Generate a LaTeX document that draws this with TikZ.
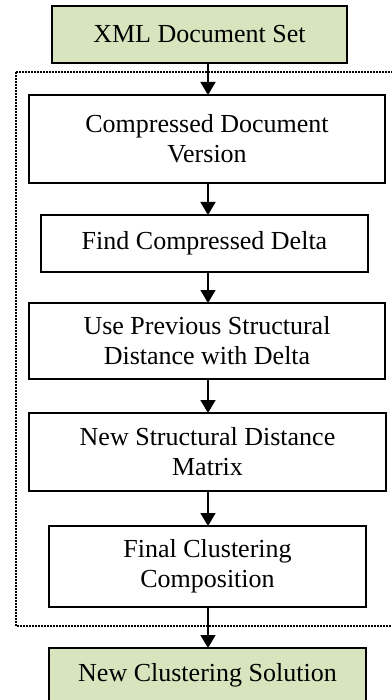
\documentclass[tikz,border=0pt]{standalone}
\usepackage{fontspec}
\setmainfont{Liberation Serif}
\usetikzlibrary{arrows.meta}

\definecolor{stagegreen}{HTML}{D7E4BD}

\tikzset{
  stagebox/.style={draw=black, line width=2pt, fill=white, align=center,
    inner sep=0pt, outer sep=0pt,
    font=\fontsize{26}{30}\selectfont},
  iobox/.style={stagebox, fill=stagegreen},
  flow/.style={line width=1.6pt, -{Triangle[width=15pt,length=13pt]}},
  groupframe/.style={line width=1.3pt, dash pattern=on 2pt off 1pt}
}

\begin{document}
\begin{tikzpicture}[x=1pt, y=-1pt]
  \useasboundingbox (0,0) rectangle (391,700);

  % dotted frame around the processing stages
  \draw[groupframe] (16,72) rectangle (393,626);

  % boxes
  \node[iobox, minimum width=295pt, minimum height=57pt] (src) at (199.5,34.5) {XML Document Set};
  \node[stagebox, minimum width=356pt, minimum height=88pt] (cdv) at (207,139) {Compressed Document\\Version};
  \node[stagebox, minimum width=327pt, minimum height=57pt] (fcd) at (204.5,243.5) {Find Compressed Delta};
  \node[stagebox, minimum width=356pt, minimum height=76pt] (upd) at (207,341) {Use Previous Structural\\Distance with Delta};
  \node[stagebox, minimum width=357pt, minimum height=78pt] (nsd) at (207.5,452) {New Structural Distance\\Matrix};
  \node[stagebox, minimum width=317pt, minimum height=81pt] (fcc) at (207.5,566.5) {Final Clustering\\Composition};
  \node[iobox, minimum width=317pt, minimum height=54pt] (ncs) at (207.5,675) {New Clustering Solution};

  % vertical axis of the connectors
  \coordinate (ax) at (208,0);

  \draw[flow] (src.south -| ax) -- (cdv.north -| ax);
  \draw[flow] (cdv.south -| ax) -- (fcd.north -| ax);
  \draw[flow] (fcd.south -| ax) -- (upd.north -| ax);
  \draw[flow] (upd.south -| ax) -- (nsd.north -| ax);
  \draw[flow] (nsd.south -| ax) -- (fcc.north -| ax);
  \draw[flow] (fcc.south -| ax) -- (ncs.north -| ax);
\end{tikzpicture}
\end{document}
